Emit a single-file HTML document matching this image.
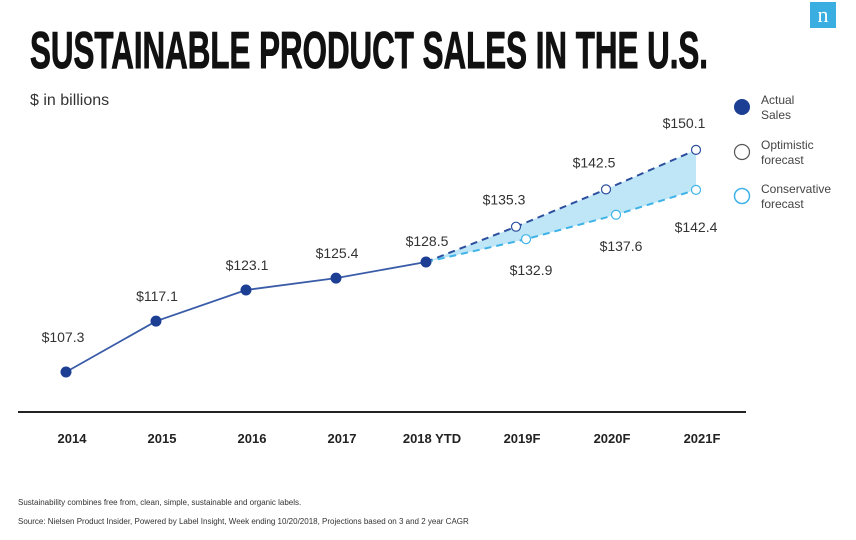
<!DOCTYPE html>
<html><head><meta charset="utf-8"><style>
body{margin:0;background:#fff;width:856px;height:535px;overflow:hidden;font-family:"Liberation Sans",sans-serif}
</style></head><body>
<svg id="chart" width="856" height="535" viewBox="0 0 856 535" xmlns="http://www.w3.org/2000/svg">
<rect x="810" y="2" width="26" height="26" fill="#3aaee0"/>
<text x="823" y="22" text-anchor="middle" font-family="Liberation Serif,serif" font-size="22" fill="#fff">n</text>
<text x="30" y="68" font-family="Liberation Sans Narrow,Liberation Sans,sans-serif" font-weight="bold" font-size="52" textLength="678" lengthAdjust="spacingAndGlyphs" fill="#111" stroke="#111" stroke-width="1">SUSTAINABLE PRODUCT SALES IN THE U.S.</text>
<text x="30" y="105" font-size="16" fill="#333">$ in billions</text>
<g id="plot"></g>
<line x1="18" y1="412" x2="746" y2="412" stroke="#222" stroke-width="2"/>
<g id="xlabels"></g>
<g>
<circle cx="742" cy="107" r="8" fill="#1c3f94"/>
<text font-size="12" fill="#444"><tspan x="761" y="104">Actual</tspan><tspan x="761" y="119">Sales</tspan></text>
<circle cx="742" cy="152" r="7.5" fill="#fff" stroke="#555" stroke-width="1.2"/>
<text font-size="12" fill="#444"><tspan x="761" y="149">Optimistic</tspan><tspan x="761" y="164">forecast</tspan></text>
<circle cx="742" cy="196" r="7.5" fill="#fff" stroke="#3fb3e8" stroke-width="1.5"/>
<text font-size="12" fill="#444"><tspan x="761" y="193">Conservative</tspan><tspan x="761" y="208">forecast</tspan></text>
</g>
<text x="18" y="505" font-size="8" fill="#333">Sustainability combines free from, clean, simple, sustainable and organic labels.</text>
<text x="18" y="524" font-size="8" fill="#333">Source: Nielsen Product Insider, Powered by Label Insight, Week ending 10/20/2018, Projections based on 3 and 2 year CAGR</text>
</svg>
<script>
const categories=["2014","2015","2016","2017","2018 YTD","2019F","2020F","2021F"];
const actual=[107.3,117.1,123.1,125.4,128.5];
const optimistic=[128.5,135.3,142.5,150.1];
const conservative=[128.5,132.9,137.6,142.4];
const NS="http://www.w3.org/2000/svg";
const plot=document.getElementById('plot'),xl=document.getElementById('xlabels');
function x(i){return 66+i*90;}
function y(v){return 262-(v-128.5)*5.19;}
function el(t,a,p){const e=document.createElementNS(NS,t);for(const k in a)e.setAttribute(k,a[k]);(p||plot).appendChild(e);return e;}
categories.forEach((c,i)=>{const t=el('text',{x:x(i)+6,y:443,'text-anchor':'middle','font-size':13,'font-weight':'bold',fill:'#222'},xl);t.textContent=c;

});
const s=actual.length-1;
function cx(j){return x(s+j)+(j==1||j==2?10:0);}
let pts=optimistic.map((v,j)=>x(s+j)+','+y(v)).concat(conservative.map((v,j)=>cx(j)+','+y(v)).reverse());
const band=el('polygon',{points:pts.join(' '),fill:'#bfe6f7'});


const ol=el('polyline',{points:optimistic.map((v,j)=>x(s+j)+','+y(v)).join(' '),fill:'none',stroke:'#2c4f9e','stroke-width':2,'stroke-dasharray':'7 5'});


const cl=el('polyline',{points:conservative.map((v,j)=>cx(j)+','+y(v)).join(' '),fill:'none',stroke:'#3fb3e8','stroke-width':2,'stroke-dasharray':'7 5'});


const al=el('polyline',{points:actual.map((v,i)=>x(i)+','+y(v)).join(' '),fill:'none',stroke:'#3a5ca8','stroke-width':1.8});


actual.forEach((v,i)=>{const c=el('circle',{cx:x(i),cy:y(v),r:5.5,fill:'#1c3f94'});


const t=el('text',{x:x(i)-(i==0?3:-1),y:y(v)-(i==0?30:i==4?16:20),'text-anchor':'middle','font-size':14,fill:'#333'});t.textContent='$'+v.toFixed(1);

});
optimistic.slice(1).forEach((v,k)=>{const j=k+1;const c=el('circle',{cx:x(s+j),cy:y(v),r:4.5,fill:'#fff',stroke:'#2c4f9e','stroke-width':1.2});


const t=el('text',{x:x(s+j)-12,y:y(v)-22,'text-anchor':'middle','font-size':14,fill:'#333'});t.textContent='$'+v.toFixed(1);

});
conservative.slice(1).forEach((v,k)=>{const j=k+1;const c=el('circle',{cx:cx(j),cy:y(v),r:4.5,fill:'#fff',stroke:'#3fb3e8','stroke-width':1.2});


const t=el('text',{x:cx(j)+(j==3?0:5),y:y(v)+(j==3?42:36),'text-anchor':'middle','font-size':14,fill:'#333'});t.textContent='$'+v.toFixed(1);

});
</script>
</body></html>
